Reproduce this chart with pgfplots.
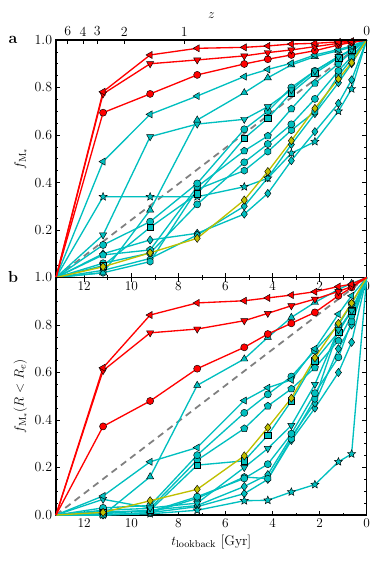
\documentclass[border=0pt]{standalone}
\usepackage{pgfplots}
\usepackage{pgfplotstable}
\pgfplotsset{compat=1.18}

\definecolor{cyn}{RGB}{0,191,191}
\definecolor{yel}{RGB}{191,191,0}
\newcommand{\fs}{\fontsize{12.5}{15}\selectfont}

% filled star and hexagon marks (matplotlib style)
\pgfdeclareplotmark{fstar}{%
  \pgfpathmoveto{\pgfpointpolar{90}{\pgfplotmarksize}}%
  \pgfpathlineto{\pgfpointpolar{126}{0.45\pgfplotmarksize}}%
  \pgfpathlineto{\pgfpointpolar{162}{\pgfplotmarksize}}%
  \pgfpathlineto{\pgfpointpolar{198}{0.45\pgfplotmarksize}}%
  \pgfpathlineto{\pgfpointpolar{234}{\pgfplotmarksize}}%
  \pgfpathlineto{\pgfpointpolar{270}{0.45\pgfplotmarksize}}%
  \pgfpathlineto{\pgfpointpolar{306}{\pgfplotmarksize}}%
  \pgfpathlineto{\pgfpointpolar{342}{0.45\pgfplotmarksize}}%
  \pgfpathlineto{\pgfpointpolar{18}{\pgfplotmarksize}}%
  \pgfpathlineto{\pgfpointpolar{54}{0.45\pgfplotmarksize}}%
  \pgfpathclose\pgfusepathqfillstroke}
\pgfdeclareplotmark{hexa}{%
  \pgfpathmoveto{\pgfpointpolar{90}{\pgfplotmarksize}}%
  \pgfpathlineto{\pgfpointpolar{150}{\pgfplotmarksize}}%
  \pgfpathlineto{\pgfpointpolar{210}{\pgfplotmarksize}}%
  \pgfpathlineto{\pgfpointpolar{270}{\pgfplotmarksize}}%
  \pgfpathlineto{\pgfpointpolar{330}{\pgfplotmarksize}}%
  \pgfpathlineto{\pgfpointpolar{30}{\pgfplotmarksize}}%
  \pgfpathclose\pgfusepathqfillstroke}

% t_lookback [Gyr] and cumulative fractions, panel a
\pgfplotstableread{
t    RL    RD    RC    CL    CU    CD    CS    CQ    C1    CP    C2    CH    D1    D2    Y
13.2 0     0     0     0     0     0     0     0     0     0     0     0     0     0     0
11.2 0.782 0.773 0.694 0.488 0.02  0.179 0.34  0.05  0.137 0.095 0.06  0.02  0.10  0.03  0.045
9.2  0.937 0.900 0.773 0.687 0.284 0.593 0.34  0.211 0.235 0.116 0.103 0.067 0.158 0.08  0.104
7.2  0.965 0.916 0.853 0.764 0.663 0.646 0.34  0.352 0.396 0.382 0.308 0.371 0.186 0.179 0.165
5.2  0.969 0.933 0.899 0.846 0.778 0.666 0.382 0.586 0.624 0.533 0.485 0.45  0.267 0.30  0.326
4.2  0.975 0.947 0.919 0.876 0.841 0.719 0.418 0.67  0.70  0.596 0.562 0.53  0.354 0.42  0.446
3.2  0.983 0.958 0.937 0.902 0.895 0.79  0.523 0.778 0.80  0.71  0.645 0.62  0.492 0.56  0.576
2.2  0.986 0.972 0.955 0.937 0.93  0.87  0.572 0.86  0.87  0.818 0.752 0.698 0.614 0.69  0.712
1.2  0.992 0.986 0.979 0.96  0.955 0.93  0.70  0.925 0.93  0.90  0.87  0.85  0.733 0.82  0.836
0.64 0.995 0.99  0.99  0.975 0.97  0.96  0.794 0.96  0.955 0.95  0.93  0.92  0.832 0.90  0.905
0    1     1     1     1     1     1     1     1     1     1     1     1     1     1     1
}\tabA

% panel b: fraction within R_e
\pgfplotstableread{
t    RL    RD    RC    CL    CU    CD    CS    CQ    C1    CP    C2    CH    D1    D2    Y
13.2 0     0     0     0     0     0     0     0     0     0     0     0     0     0     0
11.2 0.62  0.608 0.373 0.08  0.0   0.066 0.0   0.01  0.03  0.02  0.015 0.0   0.0   0.005 0.011
9.2  0.842 0.767 0.48  0.224 0.161 0.03  0.005 0.02  0.04  0.028 0.014 0.01  0.01  0.02  0.06
7.2  0.893 0.783 0.616 0.284 0.546 0.05  0.02  0.21  0.252 0.231 0.077 0.07  0.035 0.04  0.108
5.2  0.902 0.818 0.706 0.482 0.657 0.20  0.06  0.228 0.43  0.364 0.154 0.16  0.09  0.12  0.249
4.2  0.914 0.849 0.762 0.536 0.748 0.28  0.062 0.336 0.508 0.459 0.214 0.153 0.15  0.17  0.368
3.2  0.926 0.881 0.807 0.569 0.832 0.377 0.097 0.48  0.583 0.531 0.342 0.32  0.314 0.33  0.492
2.2  0.94  0.909 0.853 0.70  0.895 0.55  0.128 0.65  0.692 0.62  0.513 0.489 0.45  0.471 0.662
1.2  0.962 0.941 0.923 0.846 0.95  0.78  0.224 0.77  0.80  0.734 0.664 0.779 0.60  0.70  0.807
0.64 0.972 0.962 0.958 0.923 0.975 0.86  0.257 0.86  0.89  0.839 0.815 0.86  0.727 0.80  0.892
0    1     1     1     1     1     1     1     1     1     1     1     1     1     1     1
}\tabB

\pgfplotsset{
  base/.style={width=279.6pt, height=213.75pt, scale only axis, clip=false,
    xmin=0, xmax=13.2, x dir=reverse, ymin=0, ymax=1,
    xtick={0,2,4,6,8,10,12}, minor x tick num=1,
    ytick={0,0.2,0.4,0.6,0.8,1}, minor y tick num=3,
    tick align=inside, major tick length=4pt, minor tick length=2pt,
    ytick pos=both, yticklabel pos=left,
    axis line style={line width=1pt},
    every tick/.style={black, line width=0.6pt},
    tick label style={font=\fs}, label style={font=\fs}},
  ser/.style={line width=1.2pt, mark size=3.2pt, mark indices={2,3,4,5,6,7,8,9,10},
    every mark/.append style={solid, draw=black, line width=0.4pt}},
  cy/.style={ser, color=cyn, every mark/.append style={fill=cyn}},
  rd/.style={ser, color=red, every mark/.append style={fill=red}},
  yl/.style={ser, color=yel, every mark/.append style={fill=yel}},
  ml/.style={mark=triangle*, mark size=3.7pt, every mark/.append style={rotate=90}},
  md/.style={mark=triangle*, mark size=3.7pt, every mark/.append style={rotate=180}},
  mu/.style={mark=triangle*, mark size=3.7pt},
  dia/.style={mark=diamond*, mark size=3.7pt},
  diag/.style={gray, line width=1.6pt, dash pattern=on 6pt off 4.5pt},
}

\newcommand{\drawall}[1]{%
  \addplot[diag] coordinates {(13.2,0) (0,1)};
  \addplot[cy, dia] table[x=t, y=D1] {#1};
  \addplot[cy, dia] table[x=t, y=D2] {#1};
  \addplot[cy, mark=fstar, mark size=3.8pt] table[x=t, y=CS] {#1};
  \addplot[cy, mark=hexa] table[x=t, y=CH] {#1};
  \addplot[cy, mark=*] table[x=t, y=C2] {#1};
  \addplot[cy, mark=pentagon*, mark size=3.4pt] table[x=t, y=CP] {#1};
  \addplot[cy, mark=*] table[x=t, y=C1] {#1};
  \addplot[cy, mark=square*, mark size=3pt] table[x=t, y=CQ] {#1};
  \addplot[cy, md] table[x=t, y=CD] {#1};
  \addplot[cy, mu] table[x=t, y=CU] {#1};
  \addplot[cy, ml] table[x=t, y=CL] {#1};
  \addplot[yl, dia] table[x=t, y=Y] {#1};
  \addplot[rd, mark=*] table[x=t, y=RC] {#1};
  \addplot[rd, md] table[x=t, y=RD] {#1};
  \addplot[rd, ml] table[x=t, y=RL] {#1};
}

\begin{document}
\begin{tikzpicture}
\useasboundingbox (0,0) rectangle (336.6pt,504.9pt);

% panel a
\begin{axis}[base, at={(50.4pt,255.15pt)}, anchor=south west,
  xtick pos=left, xticklabel={},
  yticklabels={,0.2,0.4,0.6,0.8,1.0},
  ylabel={$f_{\mathrm{M}_*}$}]
\drawall{\tabA}
\node[font=\Large\bfseries] at (axis description cs:-0.138,1) {a};
\end{axis}

% redshift axis on top of panel a
\begin{axis}[width=279.6pt, height=213.75pt, scale only axis,
  at={(50.4pt,255.15pt)}, anchor=south west,
  xmin=0, xmax=13.2, x dir=reverse, ymin=0, ymax=1,
  axis x line*=top, axis y line=none,
  axis line style={-, line width=1pt},
  xtick={12.7,12.05,11.45,10.3,7.75,0}, xticklabels={6,4,3,2,1,0},
  minor x tick num=0, tick align=inside, major tick length=4pt,
  every tick/.style={black, line width=0.6pt},
  tick label style={font=\fs}, label style={font=\fs},
  xlabel={$z$}]
\addplot[draw=none, forget plot] coordinates {(1,0.5)};
\end{axis}

% panel b
\begin{axis}[base, at={(50.4pt,41.4pt)}, anchor=south west,
  xtick pos=both, xticklabel pos=left,
  yticklabels={0.0,0.2,0.4,0.6,0.8,1.0},
  xlabel={$t_{\mathrm{lookback}}$ [Gyr]},
  ylabel={$f_{\mathrm{M}_*}(R<R_e)$}]
\drawall{\tabB}
\node[font=\Large\bfseries] at (axis description cs:-0.138,1) {b};
\end{axis}
\end{tikzpicture}
\end{document}
